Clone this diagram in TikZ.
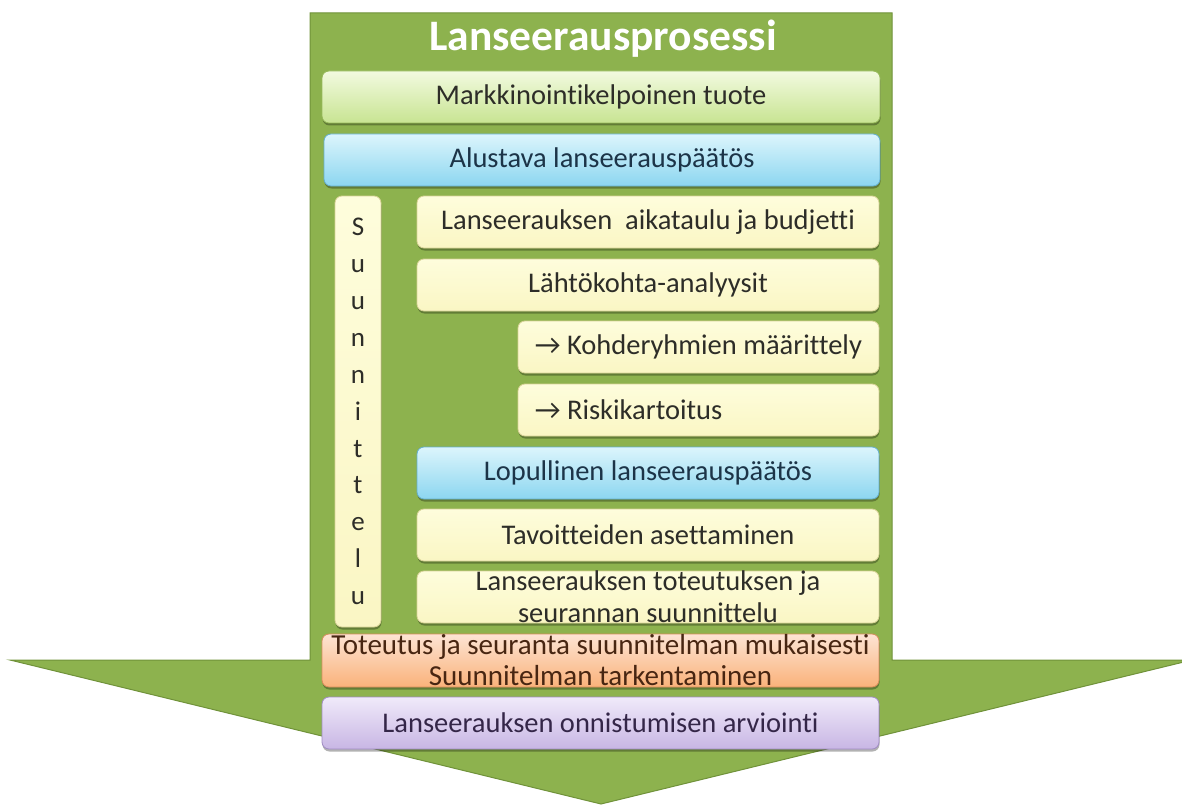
\documentclass[tikz,border=0pt]{standalone}
\usepackage{fontspec}
\setmainfont[Ligatures={NoCommon}]{Carlito}
\usetikzlibrary{shadows}
\definecolor{arrowgreen}{RGB}{141,178,78}
\definecolor{arrowedge}{RGB}{112,146,58}
\definecolor{gtop}{RGB}{242,250,224}
\definecolor{gbot}{RGB}{200,228,146}
\definecolor{gedge}{RGB}{150,185,90}
\definecolor{btop}{RGB}{220,245,252}
\definecolor{bbot}{RGB}{140,214,240}
\definecolor{bedge}{RGB}{100,175,205}
\definecolor{ytop}{RGB}{254,253,220}
\definecolor{ybot}{RGB}{250,246,196}
\definecolor{yedge}{RGB}{215,210,150}
\definecolor{otop}{RGB}{253,228,212}
\definecolor{obot}{RGB}{250,178,122}
\definecolor{oedge}{RGB}{215,140,90}
\definecolor{ptop}{RGB}{240,234,250}
\definecolor{pbot}{RGB}{200,182,228}
\definecolor{pedge}{RGB}{160,140,195}
\definecolor{txtgray}{RGB}{45,45,40}
\definecolor{txtblue}{RGB}{28,52,72}
\definecolor{txtbrown}{RGB}{72,38,18}
\definecolor{txtpurple}{RGB}{52,38,72}
\begin{document}
\begin{tikzpicture}[x=1pt,y=-1pt,
  basebox/.style={rounded corners=7pt, line width=0.8pt, inner sep=0pt,
    font=\fontsize{28.5}{32}\selectfont, align=center,
    drop shadow={shadow xshift=0.5pt, shadow yshift=-2.5pt, opacity=0.3, fill=black}},
  greenbox/.style={basebox, draw=gedge, top color=gtop, bottom color=gbot, text=txtgray},
  bluebox/.style={basebox, draw=bedge, top color=btop, bottom color=bbot, text=txtblue},
  yellowbox/.style={basebox, draw=yedge, top color=ytop, bottom color=ybot, text=txtgray},
  orangebox/.style={basebox, draw=oedge, top color=otop, bottom color=obot, text=txtbrown,
    font=\fontsize{29}{31}\selectfont},
  purplebox/.style={basebox, draw=pedge, top color=ptop, bottom color=pbot, text=txtpurple},
  lefttext/.style={anchor=west, inner sep=0pt, text=txtgray, font=\fontsize{28.5}{32}\selectfont},
  titletext/.style={anchor=base, inner sep=0pt, text=white, font=\fontsize{43.5}{45}\selectfont\bfseries}
]
\useasboundingbox (0,0) rectangle (1182,805);
% big block arrow
\fill[arrowgreen, draw=arrowedge, line width=1pt]
  (310,13) -- (892,13) -- (892,660) -- (1192,660) -- (601,804) -- (10,660) -- (310,660) -- cycle;

\node[titletext] (title) at (603,51) {Lanseerausprosessi};

\node[greenbox, minimum width=558pt, minimum height=52pt] (mark) at (601,97) {Markkinointikelpoinen tuote};
\node[bluebox, minimum width=556pt, minimum height=52pt] (alus) at (602,160) {Alustava lanseerauspäätös};

\node[yellowbox, minimum width=46pt, minimum height=431pt, font=\fontsize{27}{36.9}\selectfont] (suun) at (358,411.5)
  {S\\u\\u\\n\\n\\i\\t\\t\\e\\l\\u};

\node[yellowbox, minimum width=462pt, minimum height=52pt] (aika) at (648,222) {Lanseerauksen\ \ aikataulu ja budjetti};
\node[yellowbox, minimum width=462pt, minimum height=52pt] (lahto) at (648,285) {Lähtökohta-analyysit};
\node[yellowbox, minimum width=361pt, minimum height=52pt] (kohde) at (698.5,347) {};
\node[lefttext] (kohdet) at ([xshift=17pt]kohde.west) {→ Kohderyhmien määrittely};
\node[yellowbox, minimum width=361pt, minimum height=52pt] (riski) at (698.5,410) {};
\node[lefttext] (riskit) at ([xshift=17pt]riski.west) {→ Riskikartoitus};
\node[bluebox, minimum width=462pt, minimum height=52pt] (lopu) at (648,473) {Lopullinen lanseerauspäätös};
\node[yellowbox, minimum width=462pt, minimum height=52pt] (tavo) at (648,535) {Tavoitteiden asettaminen};
\node[yellowbox, minimum width=462pt, minimum height=52pt] (tote) at (648,597) {Lanseerauksen toteutuksen ja\\seurannan suunnittelu};

\node[orangebox, minimum width=557pt, minimum height=53pt] (seur) at (600.5,660.5) {Toteutus ja seuranta suunnitelman mukaisesti\\Suunnitelman tarkentaminen};
\node[purplebox, minimum width=557pt, minimum height=52pt] (arvi) at (600.5,723) {Lanseerauksen onnistumisen arviointi};
\end{tikzpicture}
\end{document}
